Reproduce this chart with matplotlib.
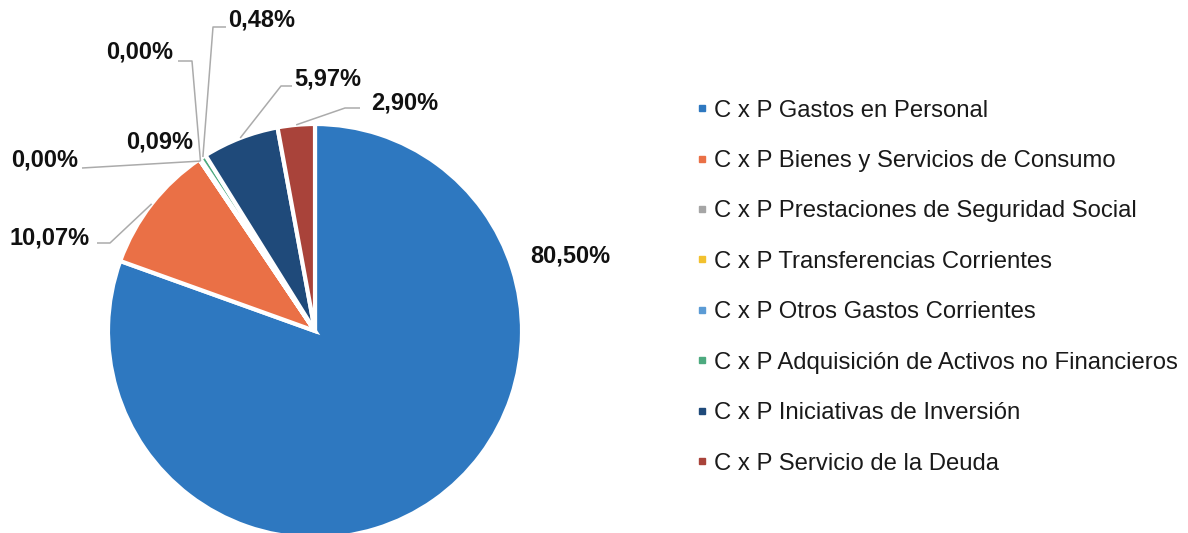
import matplotlib
matplotlib.use("Agg")
import matplotlib.pyplot as plt
from matplotlib.lines import Line2D
import numpy as np

categories = [
    "C x P Gastos en Personal",
    "C x P Bienes y Servicios de Consumo",
    "C x P Prestaciones de Seguridad Social",
    "C x P Transferencias Corrientes",
    "C x P Otros Gastos Corrientes",
    "C x P Adquisición de Activos no Financieros",
    "C x P Iniciativas de Inversión",
    "C x P Servicio de la Deuda",
]
values = [80.50, 10.07, 0.00, 0.00, 0.09, 0.48, 5.97, 2.90]
labels = ["80,50%", "10,07%", "0,00%", "0,00%", "0,09%", "0,48%", "5,97%", "2,90%"]
colors = ["#2E78C0", "#EA7046", "#A5A5A5", "#F2C12E", "#5B9BD5", "#4DAA7F", "#1F4A7A", "#A9433A"]

W, H = 1188, 533
fig = plt.figure(figsize=(W / 100, H / 100), dpi=100)
ax = fig.add_axes([0, 0, 1, 1])
ax.set_xlim(0, W)
ax.set_ylim(0, H)
ax.set_aspect("equal")
ax.axis("off")

def Y(y):
    return H - y

cx, cy, R = 315, 331, 207
wedges, _ = ax.pie(values, colors=colors, startangle=90, counterclock=False,
                   center=(cx, Y(cy)), radius=R, normalize=True,
                   wedgeprops=dict(edgecolor="white", linewidth=3))
ax.set_xlim(0, W)
ax.set_ylim(0, H)

def edge_point(i, frac=1.0, ang=None):
    w = wedges[i]
    if ang is None:
        ang = 0.5 * (w.theta1 + w.theta2)
    a = np.deg2rad(ang)
    return cx + R * frac * np.cos(a), Y(cy) + R * frac * np.sin(a)

lc = "#ABABAB"
lw = 1.1

# label positions (image px, y down) and leader line elbows
label_pos = [(570, 256), (50, 238), (140, 52), (45, 160), (160, 142), (262, 20), (328, 79), (405, 103)]
elbows = [None, [(110, 243), (97, 243)], [(192, 61), (178, 61)], [(82, 168)], None,
          [(213, 27), (226, 27)], [(281, 86), (292, 86)], [(345, 108), (360, 108)]]

for i, (lab, pos) in enumerate(zip(labels, label_pos)):
    if elbows[i] is not None:
        w = wedges[i]
        if values[i] < 0.2:
            x0, y0 = edge_point(i, 0.99, w.theta1)
        else:
            x0, y0 = edge_point(i, 1.0)
        xs = [x0] + [p[0] for p in elbows[i]]
        ys = [y0] + [Y(p[1]) for p in elbows[i]]
        ax.plot(xs, ys, color=lc, lw=lw, solid_capstyle="butt")
    ax.text(pos[0], Y(pos[1]), lab, ha="center", va="center", fontsize=17,
            fontweight="bold", family="Liberation Sans", color="#111111")

handles = [Line2D([], [], marker="s", linestyle="none", markersize=5,
                  markerfacecolor=c, markeredgecolor=c) for c in colors]
leg = fig.legend(handles, categories, loc="upper left",
                 bbox_to_anchor=(688 / W, 1 - 90 / H), frameon=False,
                 prop=dict(family="Liberation Sans", size=17.2),
                 handlelength=0.4, handletextpad=0.3, labelspacing=1.19,
                 borderaxespad=0)
for t in leg.get_texts():
    t.set_color("#1a1a1a")

fig.savefig("out.png", dpi=100, facecolor="white")
